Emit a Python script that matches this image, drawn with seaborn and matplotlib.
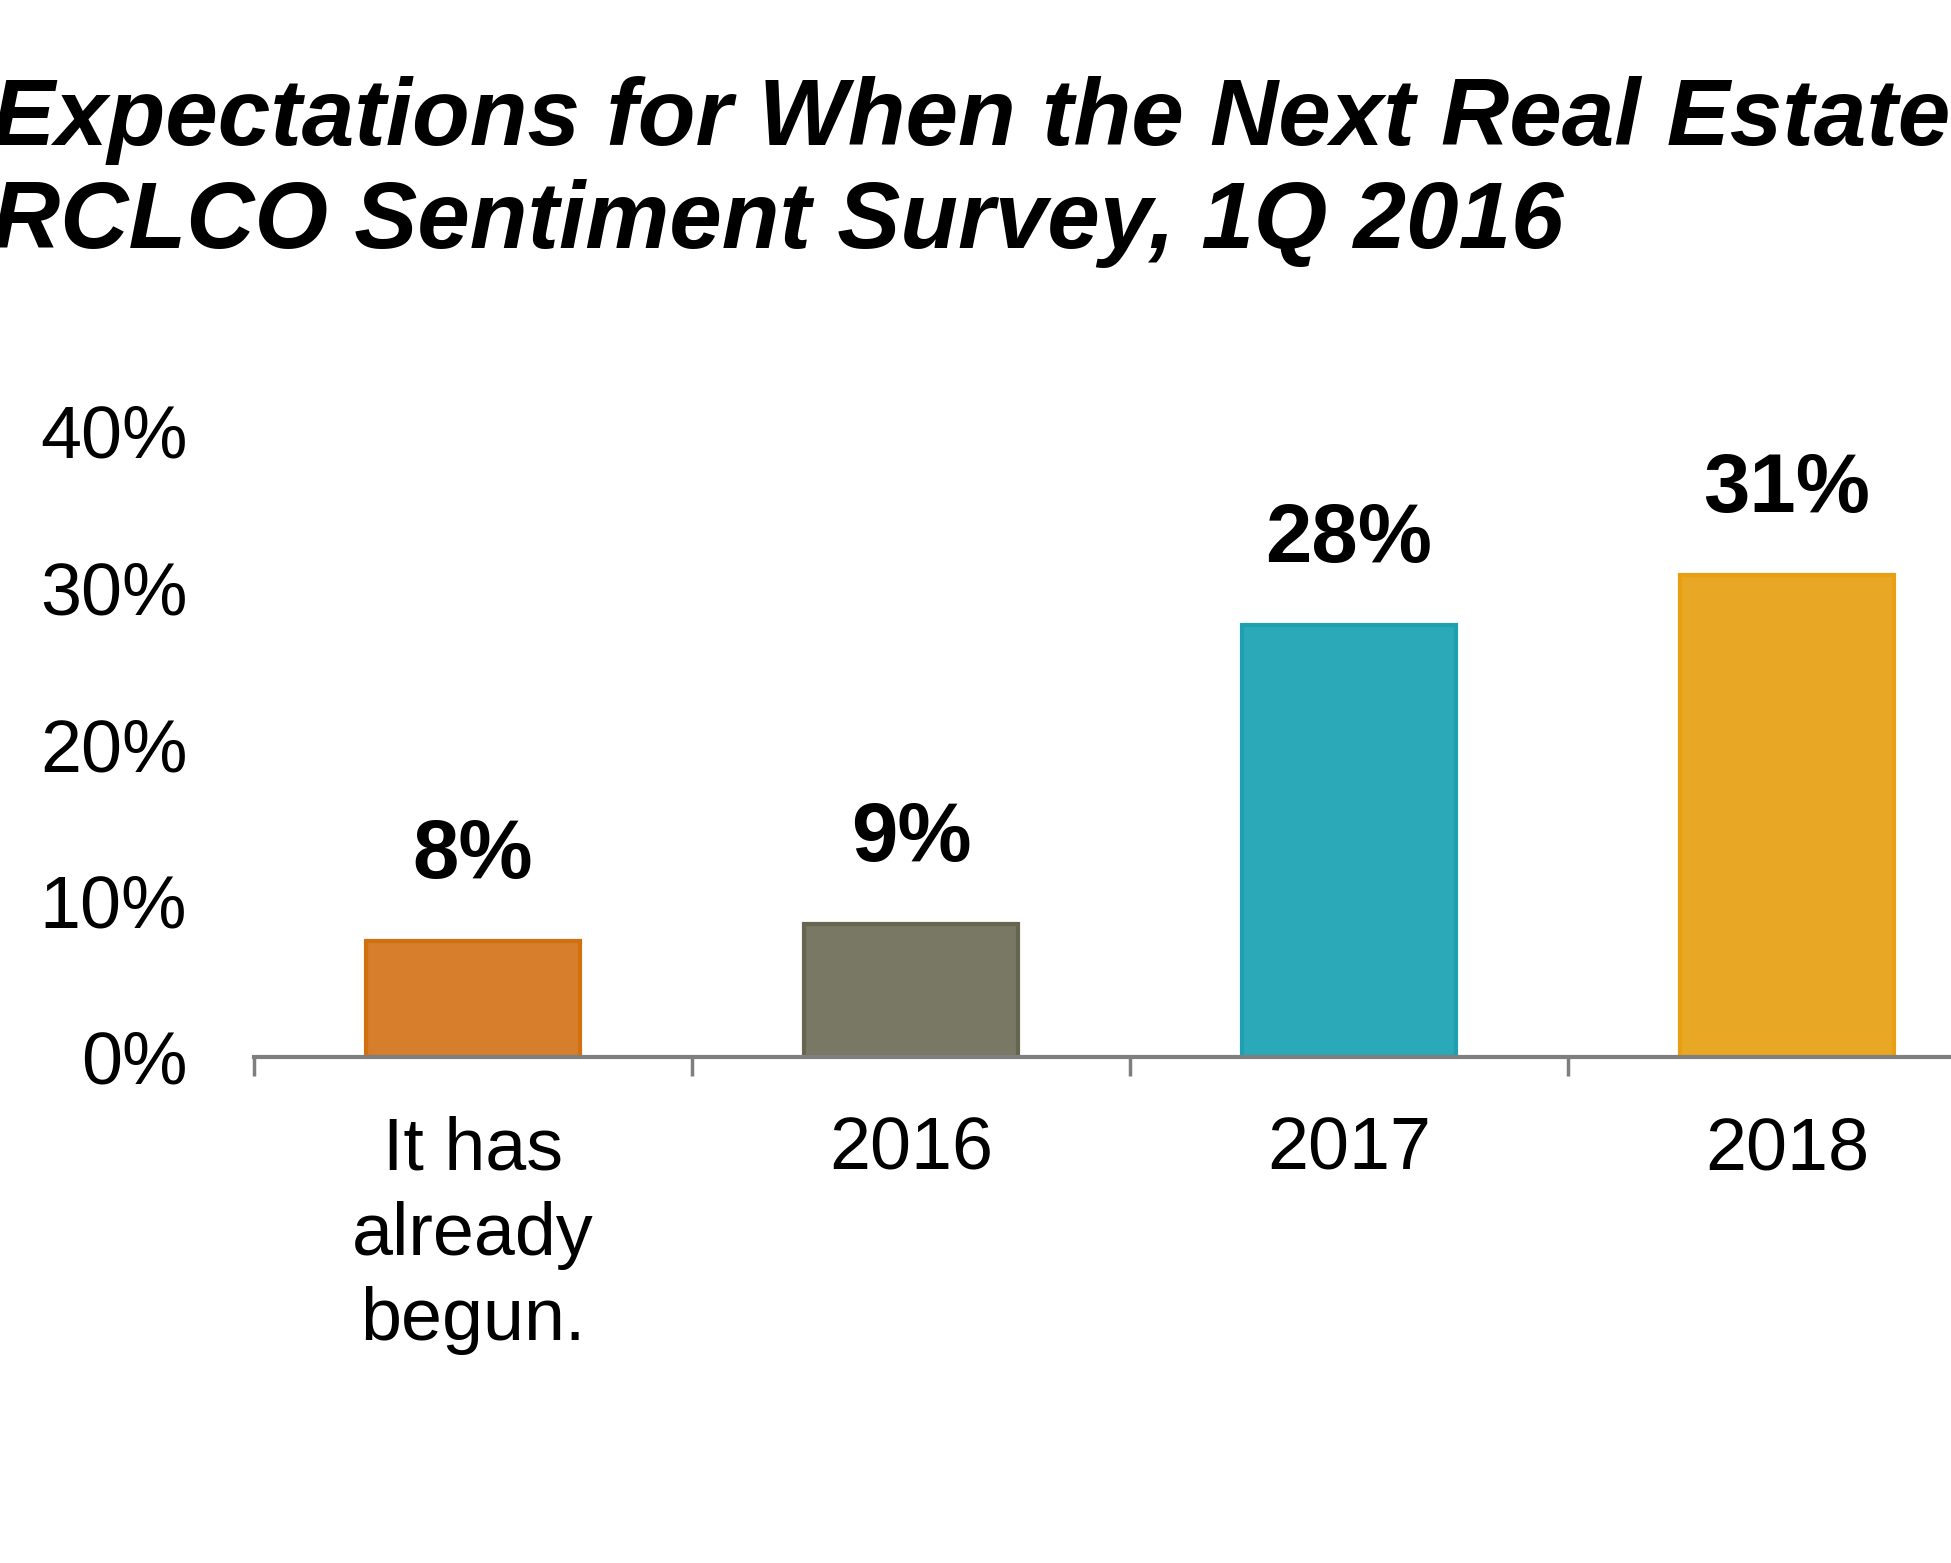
import matplotlib
matplotlib.use("Agg")
import matplotlib.pyplot as plt
import seaborn as sns
import pandas as pd

# data
categories = ["It has\nalready\nbegun.", "2016", "2017", "2018"]
shares = [7.4, 8.5, 27.6, 30.8]
share_labels = ["8%", "9%", "28%", "31%"]
bar_colors = ["#D67E2B", "#797865", "#2BA9B8", "#E8A825"]
edge_colors = ["#D0700F", "#66654F", "#1FA0B0", "#E89F12"]
yticks = [0, 10, 20, 30, 40]
ytick_labels = ["0%", "10%", "20%", "30%", "40%"]

df = pd.DataFrame({"category": categories, "share": shares})

sns.set_theme(style="white")
plt.rcParams["font.family"] = ["Liberation Sans", "DejaVu Sans"]
plt.rcParams["text.color"] = "black"
plt.rcParams["xtick.color"] = "black"
plt.rcParams["ytick.color"] = "black"

fig = plt.figure(figsize=(19.51, 15.63), dpi=100)
ax = fig.add_axes([254 / 1951, 506 / 1563, 2190 / 1951, 626 / 1563])

sns.barplot(data=df, x="category", y="share", hue="category",
            palette=bar_colors, width=0.49, legend=False, ax=ax, saturation=1)
for patch, ec in zip(ax.patches, edge_colors):
    patch.set_edgecolor(ec)
    patch.set_linewidth(3)

for i, (v, lab) in enumerate(zip(shares, share_labels)):
    ax.annotate(lab, (i, v), xytext=(0, 61), textcoords="offset points",
                ha="center", va="center", fontsize=60, fontweight="bold",
                color="black")

ax.set_xlim(-0.5, 4.5)
ax.set_ylim(0, 40)
ax.set_yticks(yticks)
ax.set_yticklabels(ytick_labels)
ax.set_xlabel("")
ax.set_ylabel("")

for side in ["top", "right", "left"]:
    ax.spines[side].set_visible(False)
ax.spines["bottom"].set_color("#7F7F7F")
ax.spines["bottom"].set_linewidth(3)

ax.set_xticks([-0.5, 0.5, 1.5, 2.5, 3.5, 4.5], minor=True)
ax.tick_params(axis="x", which="minor", length=14, width=2.5,
               color="#7F7F7F", bottom=True)
ax.tick_params(axis="x", which="major", length=0, pad=42, labelsize=53,
               labelcolor="black")
ax.tick_params(axis="y", length=0, pad=48, labelsize=53, labelcolor="black")
for t in ax.get_xticklabels():
    t.set_linespacing(1.3)

fig.text(-0.004, 1 - 145 / 1563, "Expectations for When the Next Real Estate Downturn Will Occur",
         fontsize=68, fontweight="bold", fontstyle="italic", va="baseline",
         ha="left", color="black")
fig.text(-0.004, 1 - 248 / 1563, "RCLCO Sentiment Survey, 1Q 2016",
         fontsize=68, fontweight="bold", fontstyle="italic", va="baseline",
         ha="left", color="black")

fig.savefig("out.png", dpi=100)
